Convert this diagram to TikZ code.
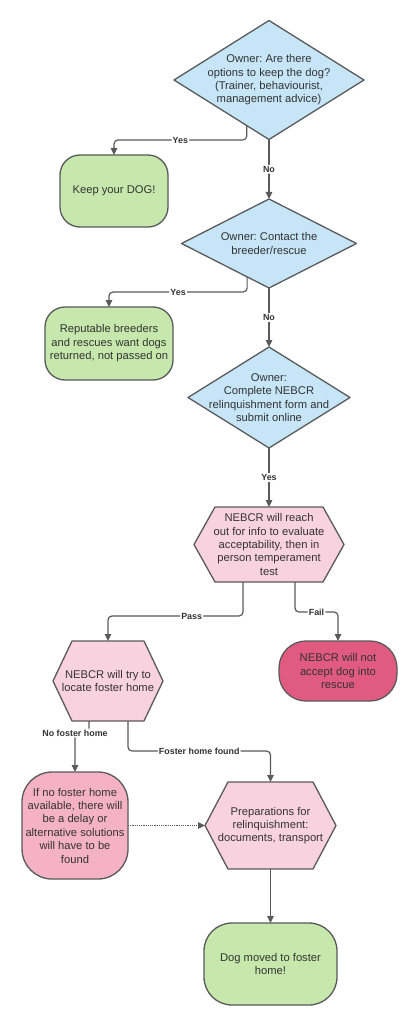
\documentclass[tikz,border=0pt]{standalone}
\usepackage{fontspec}
\setmainfont{Liberation Sans}
\frenchspacing
\usetikzlibrary{arrows.meta,calc,backgrounds}
\definecolor{linec}{HTML}{5A5A5A}
\definecolor{textc}{HTML}{333333}
\definecolor{bluef}{HTML}{C6E5F7}
\definecolor{greenf}{HTML}{C7E8AD}
\definecolor{hexf}{HTML}{F9D2DF}
\definecolor{redf}{HTML}{E05A82}
\definecolor{pinkf}{HTML}{F5B2C7}
\begin{document}
\begin{tikzpicture}[x=1pt,y=-1pt,
  txt/.style={font=\fontsize{11.2}{13.4}\selectfont, text=textc, align=center, inner sep=0pt, outer sep=0pt},
  box/.style={txt, draw=linec, line width=1.3pt, rounded corners=#1},
  shapeline/.style={draw=linec, line width=1.3pt, line join=round},
  conn/.style={draw=linec, line width=1.2pt, rounded corners=4pt, -{Triangle[length=7pt,width=6.5pt]}},
  dotconn/.style={draw=linec, line width=0.9pt, dash pattern=on 1.1pt off 1.1pt, -{Triangle[length=7pt,width=6.5pt]}},
  lbl/.style={font=\fontsize{8.9}{10}\selectfont\bfseries, text=textc, fill=white, inner sep=1.2pt}]
\path[use as bounding box] (0,0) rectangle (416,1024);

% nodes
\node[txt, minimum width=190pt, minimum height=119pt] (d1) at (269,80)
  {Owner: Are there\\options to keep the dog?\\(Trainer, behaviourist,\\management advice)};
\node[box=20pt, fill=greenf, minimum width=108pt, minimum height=72pt] (keep) at (114,191) {Keep your DOG!};
\node[txt, minimum width=175pt, minimum height=89pt] (d2) at (269,243.5)
  {Owner: Contact the\\breeder/rescue};
\node[box=20pt, fill=greenf, minimum width=128pt, minimum height=73pt] (rep) at (109,343.5)
  {Reputable breeders\\and rescues want dogs\\returned, not passed on};
\node[txt, minimum width=162pt, minimum height=101pt] (d3) at (269,397.5)
  {Owner:\\Complete NEBCR\\relinquishment form and\\submit online};
\node[txt, minimum width=150pt, minimum height=75pt] (h1) at (269,544.5)
  {NEBCR will reach\\out for info to evaluate\\acceptability, then in\\person temperament\\test};
\node[box=27pt, fill=redf, minimum width=118pt, minimum height=60pt] (red) at (338,671)
  {NEBCR will not\\accept dog into\\rescue};
\node[txt, minimum width=110pt, minimum height=80pt] (h2) at (108,681)
  {NEBCR will try to\\locate foster home};
\node[box=30pt, fill=pinkf, minimum width=106pt, minimum height=107pt] (pink) at (75,825.5)
  {If no foster home\\available, there will\\be a delay or\\alternative solutions\\will have to be\\found};
\node[txt, minimum width=131pt, minimum height=87pt] (h3) at (270.5,825.5)
  {Preparations for\\relinquishment:\\documents, transport};
\node[box=28pt, fill=greenf, minimum width=133pt, minimum height=82pt] (fin) at (270.5,964)
  {Dog moved to foster\\home!};

% shapes behind text
\begin{scope}[on background layer]
  \fill[white] (0,0) rectangle (416,1024);
  \filldraw[shapeline, fill=bluef] (d1.north) -- (d1.east) -- (d1.south) -- (d1.west) -- cycle;
  \filldraw[shapeline, fill=bluef] (d2.north) -- (d2.east) -- (d2.south) -- (d2.west) -- cycle;
  \filldraw[shapeline, fill=bluef] (d3.north) -- (d3.east) -- (d3.south) -- (d3.west) -- cycle;
  \filldraw[shapeline, fill=hexf] (h1.west) -- ([xshift=21pt]h1.north west) -- ([xshift=-21pt]h1.north east)
     -- (h1.east) -- ([xshift=-21pt]h1.south east) -- ([xshift=21pt]h1.south west) -- cycle;
  \filldraw[shapeline, fill=hexf] (h2.west) -- ([xshift=19pt]h2.north west) -- ([xshift=-19pt]h2.north east)
     -- (h2.east) -- ([xshift=-19pt]h2.south east) -- ([xshift=19pt]h2.south west) -- cycle;
  \filldraw[shapeline, fill=hexf] (h3.west) -- ([xshift=23pt]h3.north west) -- ([xshift=-23pt]h3.north east)
     -- (h3.east) -- ([xshift=-23pt]h3.south east) -- ([xshift=23pt]h3.south west) -- cycle;
\end{scope}

% bend levels and start points
\coordinate (b1) at (0,140);
\coordinate (b2) at (0,292);
\coordinate (b3) at (0,616);
\coordinate (b4) at (0,612);
\coordinate (b5) at (0,733);
\coordinate (b6) at (0,751);
\coordinate (s1) at ($(d1.south)!0.234!(d1.west)$);
\coordinate (s2) at ($(d2.south)!0.25!(d2.west)$);
\coordinate (p1) at ([xshift=-26pt]h1.south);
\coordinate (p2) at ([xshift=26pt]h1.south);
\coordinate (p3) at ([xshift=-19pt]h2.south);
\coordinate (p4) at ([xshift=20pt]h2.south);

% connectors
\draw[conn] (s1) -- (s1 |- b1) -- node[lbl]{Yes} (keep.north |- b1) -- (keep.north);
\draw[conn] (d1.south) -- node[lbl]{No} (d2.north);
\draw[conn] (s2) -- (s2 |- b2) -- node[lbl]{Yes} (rep.north |- b2) -- (rep.north);
\draw[conn] (d2.south) -- node[lbl]{No} (d3.north);
\draw[conn] (d3.south) -- node[lbl]{Yes} (h1.north);
\draw[conn] (p1) -- (p1 |- b3) -- node[lbl,pos=0.38]{Pass} (h2.north |- b3) -- (h2.north);
\draw[conn] (p2) -- (p2 |- b4) -- node[lbl]{Fail} (red.north |- b4) -- (red.north);
\draw[conn] (p3) -- (p3 |- b5) -- node[lbl,pos=1]{No foster home} (pink.north |- b5) -- (pink.north);
\draw[conn] (p4) -- (p4 |- b6) -- node[lbl]{Foster home found} (h3.north |- b6) -- (h3.north);
\draw[dotconn] (pink.east) -- (h3.west);
\draw[conn] (h3.south) -- (fin.north);
\end{tikzpicture}
\end{document}
